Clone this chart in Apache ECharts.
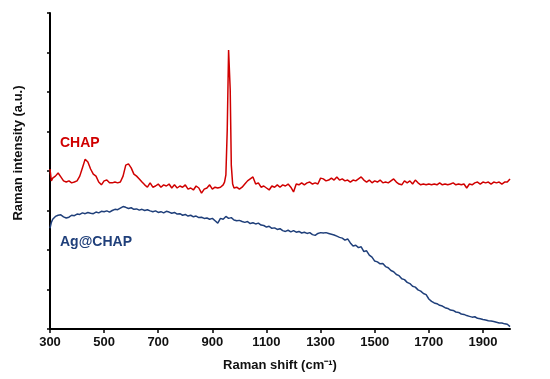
<!DOCTYPE html>
<html>
<head>
<meta charset="utf-8">
<script src="https://cdn.jsdelivr.net/npm/echarts@6/dist/echarts.min.js"></script>
<style>html,body{margin:0;padding:0;background:#fff}#c{width:550px;height:379px}</style>
</head>
<body>
<div id="c"></div>
<script>
// Raman shift (cm-1) sample positions and intensities (a.u.)
const chapShift = [300,305,310,320,330,340,350,360,370,380,390,400,410,420,430,440,450,460,470,480,490,500,510,520,530,540,550,560,570,580,590,600,610,620,630,640,650,660,670,680,690,700,710,720,730,740,750,760,770,780,790,800,810,820,830,840,850,860,870,880,890,900,910,920,930,940,945,950,955,960,963,966,970,975,980,990,1000,1010,1020,1030,1040,1050,1060,1070,1080,1090,1100,1110,1120,1130,1140,1150,1160,1170,1180,1190,1200,1210,1220,1230,1240,1250,1260,1270,1280,1290,1300,1310,1320,1330,1340,1350,1360,1370,1380,1390,1400,1410,1420,1430,1440,1450,1460,1470,1480,1490,1500,1510,1520,1530,1540,1550,1560,1570,1580,1590,1600,1610,1620,1630,1640,1650,1660,1670,1680,1690,1700,1710,1720,1730,1740,1750,1760,1770,1780,1790,1800,1810,1820,1830,1840,1850,1860,1870,1880,1890,1900,1910,1920,1930,1940,1950,1960,1970,1980,1990,2000];
const chapIntensity = [4.05,3.75,3.82,3.87,3.95,3.85,3.75,3.72,3.75,3.70,3.72,3.75,3.87,4.08,4.30,4.23,4.05,3.92,3.87,3.72,3.65,3.75,3.77,3.70,3.70,3.72,3.70,3.72,3.87,4.15,4.18,4.08,3.92,3.87,3.80,3.72,3.65,3.59,3.70,3.59,3.62,3.67,3.59,3.65,3.62,3.67,3.57,3.65,3.57,3.62,3.59,3.65,3.54,3.57,3.52,3.62,3.57,3.44,3.54,3.57,3.65,3.54,3.59,3.57,3.59,3.65,3.72,3.90,5.04,7.06,7.11,6.05,4.15,3.67,3.57,3.59,3.54,3.59,3.67,3.75,3.80,3.85,3.67,3.70,3.59,3.62,3.57,3.52,3.62,3.59,3.65,3.59,3.65,3.62,3.67,3.59,3.47,3.67,3.65,3.70,3.65,3.70,3.72,3.67,3.70,3.67,3.82,3.80,3.75,3.77,3.82,3.77,3.85,3.77,3.80,3.75,3.77,3.72,3.77,3.75,3.80,3.85,3.77,3.72,3.77,3.70,3.75,3.72,3.77,3.70,3.72,3.70,3.75,3.80,3.72,3.67,3.65,3.75,3.70,3.75,3.67,3.77,3.70,3.65,3.67,3.65,3.67,3.65,3.67,3.65,3.70,3.65,3.67,3.65,3.67,3.70,3.65,3.67,3.65,3.67,3.57,3.67,3.65,3.70,3.72,3.67,3.72,3.70,3.72,3.67,3.72,3.70,3.72,3.67,3.72,3.72,3.80];

const agShift = [300,305,310,320,330,340,350,360,370,380,390,400,410,420,430,440,450,460,470,480,490,500,510,520,530,540,550,560,570,580,590,600,610,620,630,640,650,660,670,680,690,700,710,720,730,740,750,760,770,780,790,800,810,820,830,840,850,860,870,880,890,900,910,920,930,940,950,960,970,980,990,1000,1010,1020,1030,1040,1050,1060,1070,1080,1090,1100,1110,1120,1130,1140,1150,1160,1170,1180,1190,1200,1210,1220,1230,1240,1250,1260,1270,1280,1290,1300,1310,1320,1330,1340,1350,1360,1370,1380,1390,1400,1410,1420,1430,1440,1450,1460,1470,1480,1490,1500,1510,1520,1530,1540,1550,1560,1570,1580,1590,1600,1610,1620,1630,1640,1650,1660,1670,1680,1690,1700,1710,1720,1730,1740,1750,1760,1770,1780,1790,1800,1810,1820,1830,1840,1850,1860,1870,1880,1890,1900,1910,1920,1930,1940,1950,1960,1970,1980,1990,2000];
const agIntensity = [2.55,2.70,2.78,2.85,2.88,2.89,2.84,2.81,2.83,2.88,2.87,2.91,2.90,2.94,2.92,2.95,2.93,2.92,2.96,2.94,2.98,2.97,2.99,2.96,3.00,3.03,3.02,3.06,3.10,3.08,3.05,3.07,3.03,3.04,3.01,3.03,3.00,3.02,2.99,2.97,2.99,2.95,2.97,2.94,2.98,2.96,2.93,2.95,2.91,2.92,2.88,2.90,2.86,2.88,2.84,2.86,2.82,2.83,2.80,2.81,2.78,2.80,2.74,2.68,2.80,2.78,2.85,2.80,2.82,2.76,2.74,2.75,2.72,2.70,2.72,2.67,2.69,2.66,2.68,2.63,2.62,2.58,2.60,2.55,2.56,2.52,2.54,2.49,2.47,2.50,2.46,2.49,2.45,2.47,2.43,2.45,2.42,2.44,2.39,2.37,2.42,2.44,2.43,2.44,2.42,2.40,2.38,2.35,2.32,2.30,2.25,2.28,2.18,2.10,2.12,2.06,2.08,1.96,1.98,1.87,1.82,1.72,1.70,1.65,1.66,1.58,1.55,1.48,1.45,1.38,1.35,1.27,1.25,1.18,1.15,1.08,1.06,0.99,0.96,0.90,0.87,0.76,0.70,0.66,0.64,0.60,0.58,0.54,0.52,0.48,0.47,0.43,0.42,0.38,0.37,0.34,0.32,0.30,0.31,0.27,0.26,0.24,0.23,0.21,0.20,0.19,0.17,0.15,0.15,0.13,0.12,0.06];

const xTicks = [300,500,700,900,1100,1300,1500,1700,1900];
const seriesNames = ['CHAP','Ag@CHAP'];

const pairs = (xs, ys) => xs.map((x, i) => [x, ys[i]]);
const font = '"Liberation Sans", Arial, sans-serif';
const red = '#d00000';
const blue = '#1f3f7a';

const chart = echarts.init(document.getElementById('c'), null, {renderer: 'canvas'});
chart.setOption({
  animation: false,
  backgroundColor: '#fff',
  grid: {left: 50, right: 40, top: 13, bottom: 50, containLabel: false},
  xAxis: {
    type: 'value', min: 300, max: 2000, interval: 200,
    name: 'Raman shift (cm⁻¹)', nameLocation: 'middle', nameGap: 30,
    nameTextStyle: {fontFamily: font, fontWeight: 'bold', fontSize: 13, color: '#111'},
    axisLine: {lineStyle: {color: '#000', width: 2}},
    axisTick: {show: true, length: 4, lineStyle: {color: '#000', width: 1.5}, customValues: xTicks},
    axisLabel: {customValues: xTicks, formatter: v => String(v), fontFamily: font, fontWeight: 'bold', fontSize: 13, color: '#111', margin: 7},
    splitLine: {show: false}
  },
  yAxis: {
    type: 'value', min: 0, max: 8, interval: 1,
    name: 'Raman intensity (a.u.)', nameLocation: 'middle', nameGap: 25,
    nameTextStyle: {fontFamily: font, fontWeight: 'bold', fontSize: 13, color: '#111', padding: [0, 0, 0, 36]},
    axisLine: {show: true, lineStyle: {color: '#000', width: 2}},
    axisTick: {show: true, length: 3, lineStyle: {color: '#000', width: 1.5}},
    axisLabel: {show: false},
    splitLine: {show: false}
  },
  series: [
    {name: seriesNames[0], type: 'line', data: pairs(chapShift, chapIntensity), showSymbol: false, smooth: false,
     lineStyle: {color: red, width: 1.5}, itemStyle: {color: red}},
    {name: seriesNames[1], type: 'line', data: pairs(agShift, agIntensity), showSymbol: false, smooth: false,
     lineStyle: {color: blue, width: 1.5}, itemStyle: {color: blue}}
  ],
  graphic: [
    {type: 'text', left: 60, top: 136, style: {text: seriesNames[0], fill: red, font: 'bold 14px ' + font}},
    {type: 'text', left: 60, top: 235, style: {text: seriesNames[1], fill: blue, font: 'bold 14px ' + font}}
  ]
});
</script>
</body>
</html>
